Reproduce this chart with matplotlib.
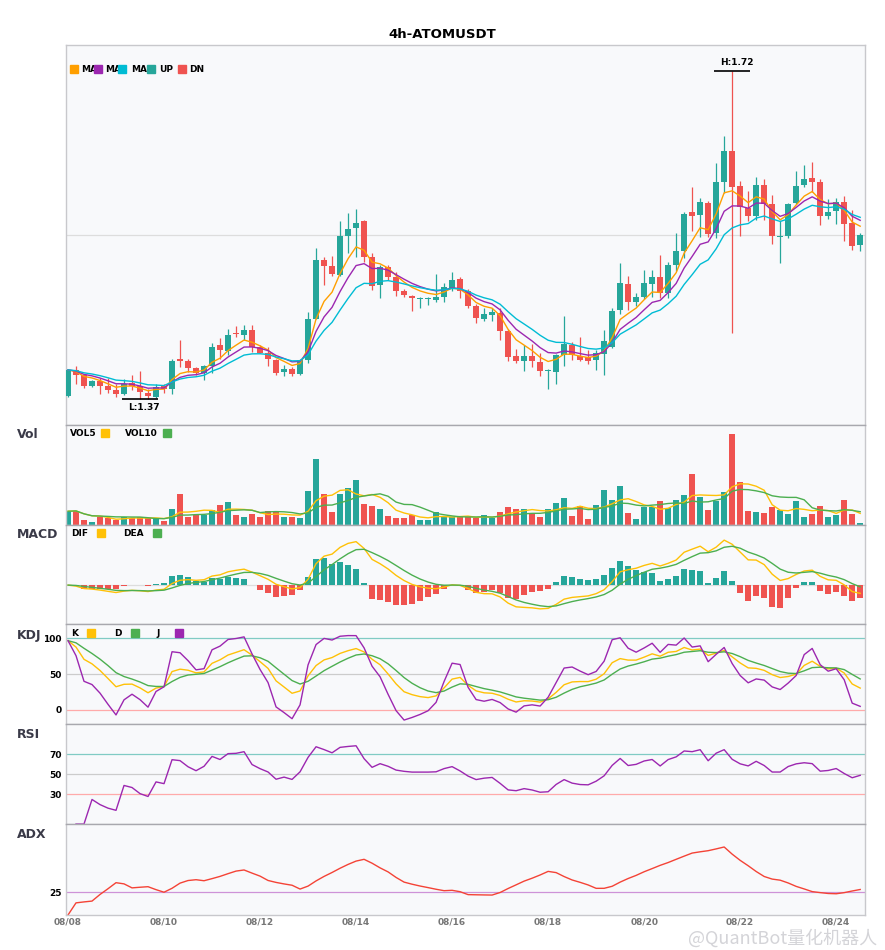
import matplotlib
matplotlib.use('Agg')
import matplotlib.pyplot as plt
from matplotlib.patches import Rectangle
import numpy as np
import pandas as pd

symbol = '4h-ATOMUSDT'
day_labels = ['08/08', '08/10', '08/12', '08/14', '08/16', '08/18', '08/20', '08/22', '08/24']

# 4h candles
opens = [1.372, 1.400, 1.394, 1.383, 1.388, 1.383, 1.378, 1.374, 1.386, 1.383,
         1.375, 1.371, 1.383, 1.380, 1.412, 1.409, 1.402, 1.397, 1.404, 1.427,
         1.420, 1.439, 1.437, 1.443, 1.425, 1.418, 1.411, 1.398, 1.401, 1.396,
         1.411, 1.455, 1.518, 1.511, 1.502, 1.543, 1.552, 1.559, 1.521, 1.491,
         1.510, 1.500, 1.484, 1.479, 1.476, 1.476, 1.475, 1.478, 1.488, 1.497,
         1.484, 1.468, 1.455, 1.459, 1.461, 1.442, 1.415, 1.409, 1.415, 1.408,
         1.399, 1.398, 1.416, 1.427, 1.415, 1.414, 1.411, 1.417, 1.425, 1.464,
         1.492, 1.473, 1.478, 1.492, 1.500, 1.482, 1.512, 1.527, 1.569, 1.566,
         1.579, 1.547, 1.601, 1.635, 1.597, 1.573, 1.565, 1.598, 1.578, 1.542,
         1.543, 1.579, 1.598, 1.606, 1.601, 1.565, 1.570, 1.580, 1.557, 1.534]
highs = [1.401, 1.404, 1.396, 1.389, 1.391, 1.391, 1.385, 1.390, 1.394, 1.399,
         1.380, 1.385, 1.385, 1.412, 1.432, 1.412, 1.403, 1.405, 1.429, 1.434,
         1.444, 1.447, 1.448, 1.448, 1.427, 1.425, 1.412, 1.405, 1.403, 1.412,
         1.462, 1.531, 1.521, 1.522, 1.559, 1.568, 1.572, 1.561, 1.525, 1.512,
         1.512, 1.505, 1.487, 1.480, 1.478, 1.478, 1.503, 1.493, 1.505, 1.499,
         1.487, 1.471, 1.466, 1.466, 1.466, 1.444, 1.422, 1.427, 1.428, 1.418,
         1.401, 1.417, 1.458, 1.430, 1.435, 1.421, 1.421, 1.443, 1.466, 1.515,
         1.501, 1.482, 1.507, 1.507, 1.523, 1.516, 1.547, 1.569, 1.596, 1.584,
         1.581, 1.622, 1.651, 1.720, 1.602, 1.592, 1.607, 1.604, 1.587, 1.560,
         1.579, 1.613, 1.619, 1.623, 1.604, 1.583, 1.584, 1.586, 1.571, 1.547]
lows = [1.371, 1.385, 1.381, 1.382, 1.374, 1.375, 1.371, 1.373, 1.378, 1.369,
        1.369, 1.370, 1.375, 1.374, 1.403, 1.398, 1.394, 1.389, 1.397, 1.412,
        1.416, 1.435, 1.432, 1.419, 1.418, 1.404, 1.394, 1.393, 1.393, 1.394,
        1.407, 1.454, 1.491, 1.501, 1.501, 1.525, 1.521, 1.516, 1.486, 1.477,
        1.496, 1.479, 1.478, 1.463, 1.466, 1.470, 1.473, 1.473, 1.485, 1.477,
        1.466, 1.450, 1.452, 1.452, 1.432, 1.410, 1.407, 1.399, 1.403, 1.393,
        1.379, 1.385, 1.404, 1.411, 1.409, 1.406, 1.400, 1.394, 1.423, 1.460,
        1.464, 1.468, 1.476, 1.478, 1.477, 1.477, 1.506, 1.520, 1.549, 1.542,
        1.542, 1.541, 1.589, 1.439, 1.543, 1.559, 1.561, 1.561, 1.535, 1.515,
        1.541, 1.578, 1.596, 1.591, 1.555, 1.562, 1.556, 1.538, 1.528, 1.527]
closes = [1.400, 1.394, 1.383, 1.388, 1.383, 1.378, 1.374, 1.385, 1.383, 1.376,
          1.372, 1.382, 1.380, 1.410, 1.409, 1.402, 1.397, 1.404, 1.425, 1.421,
          1.437, 1.438, 1.443, 1.425, 1.418, 1.412, 1.397, 1.401, 1.396, 1.411,
          1.455, 1.518, 1.511, 1.503, 1.543, 1.551, 1.557, 1.521, 1.490, 1.510,
          1.500, 1.485, 1.480, 1.477, 1.477, 1.477, 1.478, 1.489, 1.496, 1.484,
          1.468, 1.456, 1.460, 1.462, 1.442, 1.414, 1.410, 1.415, 1.409, 1.399,
          1.400, 1.416, 1.428, 1.416, 1.411, 1.410, 1.418, 1.431, 1.463, 1.493,
          1.473, 1.478, 1.493, 1.500, 1.482, 1.512, 1.527, 1.567, 1.565, 1.580,
          1.546, 1.601, 1.635, 1.596, 1.575, 1.565, 1.598, 1.578, 1.543, 1.543,
          1.578, 1.597, 1.605, 1.601, 1.565, 1.569, 1.580, 1.556, 1.533, 1.545]
volumes = [410, 430, 160, 100, 230, 210, 160, 230, 210, 230,
           210, 180, 130, 480, 910, 230, 290, 300, 450, 610,
           700, 310, 250, 340, 230, 430, 380, 230, 230, 200,
           1000, 1960, 910, 380, 910, 1090, 1330, 640, 580, 490,
           280, 220, 220, 310, 160, 160, 400, 230, 240, 230,
           230, 210, 300, 200, 400, 550, 490, 490, 370, 250,
           490, 670, 790, 280, 570, 190, 610, 1030, 760, 1150,
           370, 190, 530, 530, 730, 510, 760, 880, 1510, 820,
           460, 730, 970, 2710, 1270, 430, 400, 370, 550, 460,
           340, 730, 250, 340, 580, 250, 310, 760, 340, 70]

UP = '#26a69a'
DN = '#ef5350'
ORA = '#ff9f00'
YEL = '#ffc107'
GRN = '#4caf50'
PUR = '#9c27b0'
CYA = '#00bcd4'
BG = '#f8f9fb'

df = pd.DataFrame({'open': opens, 'high': highs, 'low': lows, 'close': closes, 'vol': volumes})
n = len(df)
x = np.arange(n)
c = df['close']
up_mask = (df['close'] >= df['open']).values
cols = np.where(up_mask, UP, DN)

# indicators (same definitions as the source chart uses)
ema5 = c.ewm(span=5, adjust=False).mean()
ema8 = c.ewm(span=8, adjust=False).mean()
ema13 = c.ewm(span=13, adjust=False).mean()
vol5 = df['vol'].rolling(5, min_periods=1).mean()
vol10 = df['vol'].rolling(10, min_periods=1).mean()

dif = c.ewm(span=6, adjust=False).mean() - c.ewm(span=13, adjust=False).mean()
dea = dif.ewm(span=5, adjust=False).mean()
hist = 2 * (dif - dea)

low9 = df['low'].rolling(9, min_periods=1).min()
high9 = df['high'].rolling(9, min_periods=1).max()
rsv = (c - low9) / (high9 - low9) * 100
k = rsv.ewm(com=2, adjust=False).mean()
d = k.ewm(com=2, adjust=False).mean()
j = 3 * k - 2 * d

delta = c.diff()
ag = delta.clip(lower=0).ewm(alpha=1/14, adjust=True).mean()
al = (-delta.clip(upper=0)).ewm(alpha=1/14, adjust=True).mean()
rsi = 100 * ag / (ag + al)

hup = df['high'].diff()
ldn = -df['low'].diff()
pdm = pd.Series(np.where((hup > ldn) & (hup > 0), hup, 0.0))
mdm = pd.Series(np.where((ldn > hup) & (ldn > 0), ldn, 0.0))
pdm_s = pdm.ewm(span=14, adjust=False).mean()
mdm_s = mdm.ewm(span=14, adjust=False).mean()
dx = ((pdm_s - mdm_s).abs() / (pdm_s + mdm_s) * 100).fillna(0)
adx = dx.ewm(span=14, adjust=False).mean()

# layout in pixels
W, H = 885, 950
fig = plt.figure(figsize=(W / 100, H / 100), dpi=100)


def rect(top, bottom, left=66, right=865):
    return [left / W, 1 - bottom / H, (right - left) / W, (bottom - top) / H]


def ftext(px, py, s, **kw):
    fig.text(px / W, 1 - py / H, s, **kw)


def fsquare(px, py, color, size=8):
    fig.add_artist(Rectangle((px / W, 1 - (py + size) / H), size / W, size / H,
                             color=color, transform=fig.transFigure, zorder=5))


ax = fig.add_axes(rect(45, 425))
ax_vol = fig.add_axes(rect(425, 525), sharex=ax)
ax_macd = fig.add_axes(rect(525, 624), sharex=ax)
ax_kdj = fig.add_axes(rect(624, 724), sharex=ax)
ax_rsi = fig.add_axes(rect(724, 824), sharex=ax)
ax_adx = fig.add_axes(rect(824, 915), sharex=ax)
panels = [ax, ax_vol, ax_macd, ax_kdj, ax_rsi, ax_adx]

for a in panels:
    a.set_facecolor(BG)
    for s in a.spines.values():
        s.set_color('#c8c8cc')
        s.set_linewidth(1)
    a.tick_params(length=0, labelsize=6.5, pad=3)
    a.set_yticks([])
for a in panels[1:]:
    a.spines['top'].set_color('#a8a8ae')

# candles
body_lo = np.minimum(df['open'], df['close'])
body_h = np.maximum((df['close'] - df['open']).abs(), 0.0009)
ax.vlines(x, df['low'], df['high'], colors=cols, lw=0.9, zorder=2)
ax.bar(x, body_h, bottom=body_lo, width=0.72, color=cols, zorder=3)
ax.plot(x, ema5, color=ORA, lw=1.0, zorder=4)
ax.plot(x, ema8, color=PUR, lw=1.0, zorder=4)
ax.plot(x, ema13, color=CYA, lw=1.0, zorder=4)

lo, hi = df['low'].min(), df['high'].max()
rng = hi - lo
ax.set_ylim(lo - 0.08 * rng, hi + 0.08 * rng)
ax.axhline((lo + hi) / 2, color='#dddddd', lw=0.9, zorder=1)
ih, il = int(df['high'].idxmax()), int(df['low'].idxmin())
ax.hlines(hi, ih - 2.25, ih + 2.25, color='black', lw=1.2, zorder=5)
ax.annotate(f'H:{hi:.2f}', (ih - 1.5, hi), xytext=(0, 3), textcoords='offset points',
            ha='left', va='bottom', fontsize=6.5, fontweight='bold')
ax.hlines(lo, il - 2.25, il + 2.25, color='black', lw=1.2, zorder=5)
ax.annotate(f'L:{lo:.2f}', (il - 1.5, lo), xytext=(0, -3), textcoords='offset points',
            ha='left', va='top', fontsize=6.5, fontweight='bold')
ax.set_xlim(-0.25, n - 0.4)

# volume
ax_vol.bar(x, df['vol'], width=0.7, color=cols)
ax_vol.plot(x, vol5, color=YEL, lw=1.0)
ax_vol.plot(x, vol10, color=GRN, lw=1.0)
ax_vol.set_ylim(0, df['vol'].max() * 1.1)

# macd
ax_macd.bar(x, hist, width=0.7, color=np.where(hist >= 0, UP, DN))
ax_macd.plot(x, dif, color=YEL, lw=1.0)
ax_macd.plot(x, dea, color=GRN, lw=1.0)
ax_macd.axhline(0, color='#dddddd', lw=0.9, zorder=0)
mlo = min(dif.min(), dea.min(), hist.min())
mhi = max(dif.max(), dea.max(), hist.max())
ax_macd.set_ylim(mlo - 0.22 * (mhi - mlo), mhi + 0.22 * (mhi - mlo))

# kdj
for lvl, cl in [(100, '#80cbc4'), (50, '#cccccc'), (0, '#ffaaaa')]:
    ax_kdj.axhline(lvl, color=cl, lw=0.9, zorder=0)
ax_kdj.plot(x, k, color=YEL, lw=1.0)
ax_kdj.plot(x, d, color=GRN, lw=1.0)
ax_kdj.plot(x, j, color=PUR, lw=1.0)
ax_kdj.set_ylim(-20, 120)
ax_kdj.set_yticks([0, 50, 100])

# rsi
for lvl, cl in [(70, '#80cbc4'), (50, '#cccccc'), (30, '#ffaaaa')]:
    ax_rsi.axhline(lvl, color=cl, lw=0.9, zorder=0)
ax_rsi.plot(x, rsi, color=PUR, lw=1.0)
ax_rsi.set_ylim(0, 100)
ax_rsi.set_yticks([30, 50, 70])

# adx
ax_adx.axhline(25, color='#ce93d8', lw=0.9, zorder=0)
ax_adx.plot(x, adx, color='#f44336', lw=1.0)
ax_adx.set_ylim(0, 100)
ax_adx.set_yticks([25])

for a in [ax_kdj, ax_rsi, ax_adx]:
    for t in a.get_yticklabels():
        t.set_fontweight('bold')

for a in panels[:-1]:
    a.tick_params(labelbottom=False)
ax_adx.set_xticks(np.arange(0, n, 12))
ax_adx.set_xticklabels(day_labels, fontsize=6.5, fontweight='bold', color='#777777')
ax_adx.tick_params(axis='x', pad=2)

# titles and legends
ftext(442, 34, symbol, ha='center', va='center', fontsize=9.5, fontweight='bold')
for py, name in [(435, 'Vol'), (535, 'MACD'), (635, 'KDJ'), (735, 'RSI'), (835, 'ADX')]:
    ftext(17, py, name, ha='left', va='center', fontsize=9, fontweight='bold', color='#3a3a48')

legend_kw = dict(ha='left', va='center', fontsize=6.5, fontweight='bold')
for sx, tx, col, lab in [(70, 81, ORA, 'MA'), (94, 105, PUR, 'MA'), (118, 131, CYA, 'MA'),
                         (147, 159, UP, 'UP'), (178, 189, DN, 'DN')]:
    fsquare(sx, 65, col)
    ftext(tx, 69.5, lab, **legend_kw)

for ty, items in [(433.5, [(70, 'VOL5', 101, YEL), (125, 'VOL10', 163, GRN)]),
                  (533.5, [(71, 'DIF', 97, YEL), (123, 'DEA', 153, GRN)]),
                  (633.5, [(71, 'K', 87, YEL), (114, 'D', 131, GRN), (156, 'J', 175, PUR)])]:
    for tx, lab, sx, col in items:
        ftext(tx, ty, lab, **legend_kw)
        fsquare(sx, ty - 4.5, col)

# watermark, kept just under the date labels
ftext(877, 938, '@QuantBot量化机器人', ha='right', va='center', fontsize=13,
      color='#d4d4d8', family=['Noto Sans CJK SC', 'DejaVu Sans'])

fig.savefig('out.png', dpi=100)
